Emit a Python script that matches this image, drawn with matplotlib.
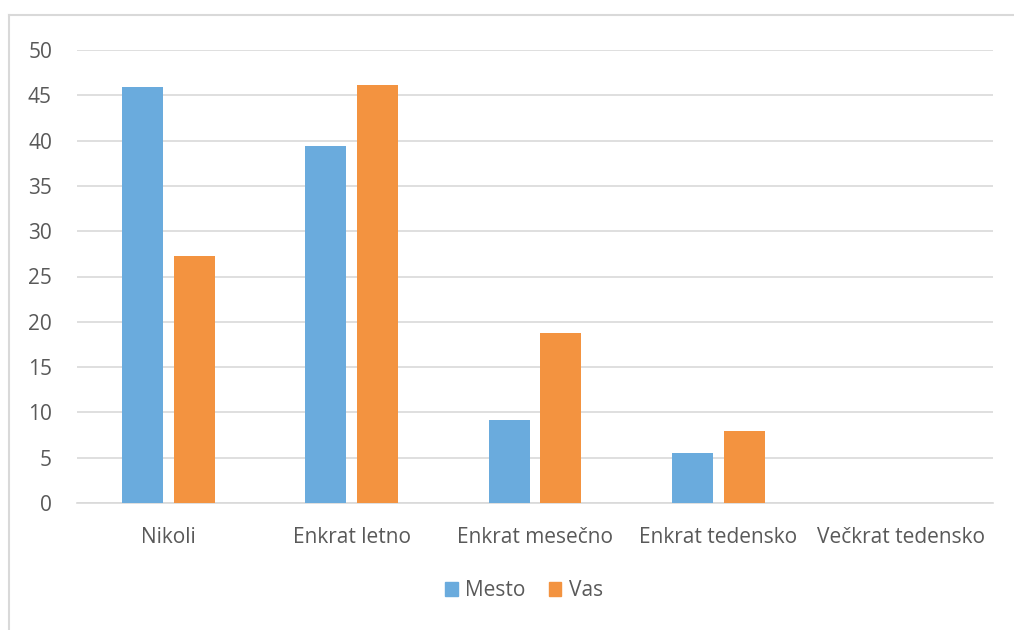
import matplotlib
matplotlib.use("Agg")
import matplotlib.pyplot as plt
import numpy as np
from matplotlib.patches import Patch
from matplotlib.lines import Line2D

kategorije = ['Nikoli', 'Enkrat letno', 'Enkrat mesečno', 'Enkrat tedensko', 'Večkrat tedensko']
mesto = [45.9, 39.4, 9.2, 5.5, 0]
vas = [27.3, 46.1, 18.8, 8.0, 0]

plt.rcParams['font.family'] = ['Open Sans', 'DejaVu Sans']
barva_teksta = '#595959'
modra = '#6aabdd'
oranzna = '#f39340'

fig = plt.figure(figsize=(10.14, 6.3), dpi=100, facecolor='white')
ax = fig.add_axes([77/1014, 1 - 503/630, (993-77)/1014, (503-50)/630])

x = np.arange(len(kategorije))
sirina = 0.224
ax.bar(x - 0.141, mesto, sirina, color=modra, zorder=3)
ax.bar(x + 0.141, vas, sirina, color=oranzna, zorder=3)

ax.set_xlim(-0.5, len(kategorije) - 0.5)
ax.set_ylim(0, 50)
ax.set_yticks(np.arange(0, 51, 5))
ax.set_xticks(x)
ax.set_xticklabels(kategorije)
ax.yaxis.grid(True, color='#d9d9d9', linewidth=1.2, zorder=0)
for s in ['top', 'right', 'left']:
    ax.spines[s].set_visible(False)
ax.spines['bottom'].set_color('#d9d9d9')
ax.spines['bottom'].set_linewidth(1.2)
ax.tick_params(axis='both', length=0, labelsize=15, colors=barva_teksta)
ax.tick_params(axis='y', pad=18)
ax.tick_params(axis='x', pad=17)

# okvir grafa
fig.add_artist(Line2D([9/1014, 9/1014], [0, 1 - 15/630], color='#d9d9d9', linewidth=1.5))
fig.add_artist(Line2D([9/1014, 1], [1 - 15/630, 1 - 15/630], color='#d9d9d9', linewidth=1.5))

rocke = [Patch(color=modra, label='Mesto'), Patch(color=oranzna, label='Vas')]
leg = fig.legend(handles=rocke, loc='center', bbox_to_anchor=(524/1014, 1 - 591/630),
                 ncol=2, frameon=False, fontsize=15, handlelength=0.62, handleheight=0.62,
                 handletextpad=0.35, columnspacing=1.1)
for t in leg.get_texts():
    t.set_color(barva_teksta)

fig.savefig('out.png', dpi=100, facecolor='white')
